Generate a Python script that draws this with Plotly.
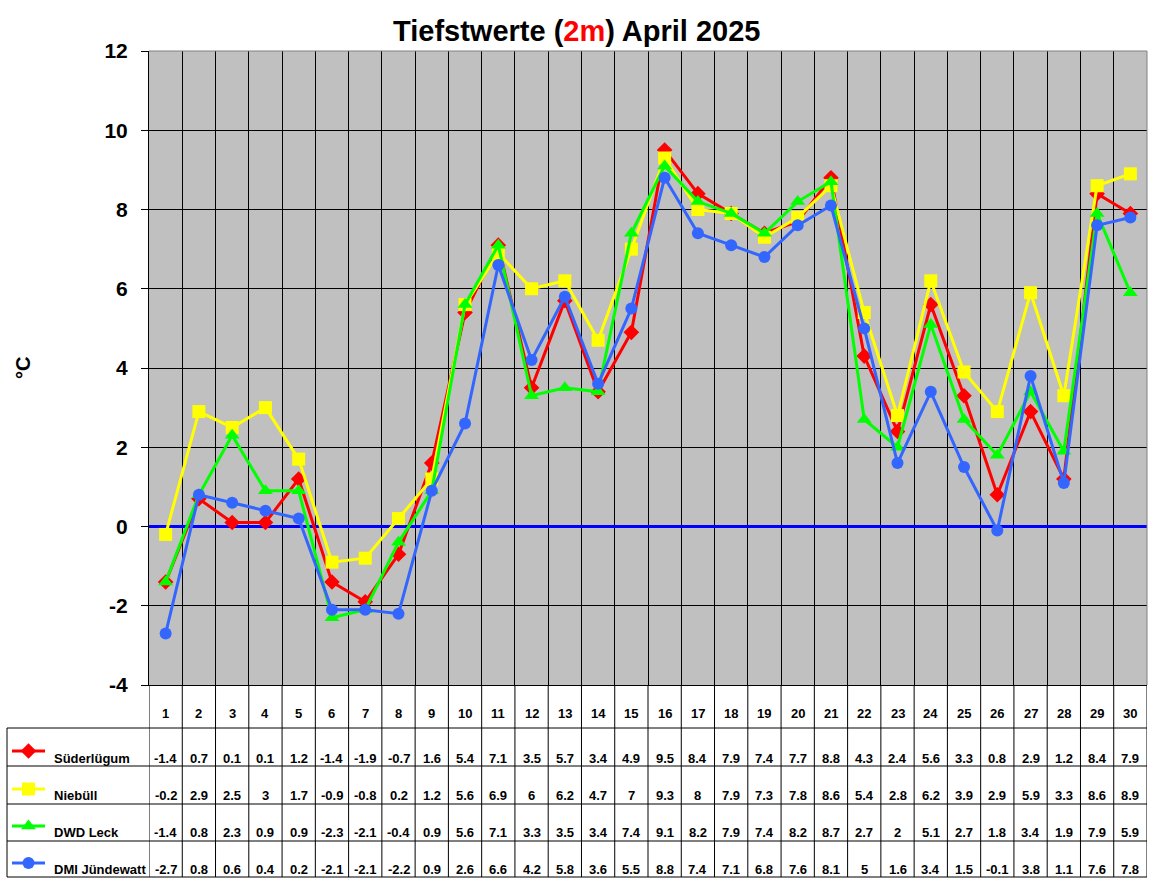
import plotly.graph_objects as go

W, H = 1152, 882

days = list(range(1, 31))
names = ["Süderlügum", "Niebüll", "DWD Leck", "DMI Jündewatt"]
suederluegum = [-1.4, 0.7, 0.1, 0.1, 1.2, -1.4, -1.9, -0.7, 1.6, 5.4, 7.1, 3.5, 5.7, 3.4, 4.9,
                9.5, 8.4, 7.9, 7.4, 7.7, 8.8, 4.3, 2.4, 5.6, 3.3, 0.8, 2.9, 1.2, 8.4, 7.9]
niebuell = [-0.2, 2.9, 2.5, 3, 1.7, -0.9, -0.8, 0.2, 1.2, 5.6, 6.9, 6, 6.2, 4.7, 7,
            9.3, 8, 7.9, 7.3, 7.8, 8.6, 5.4, 2.8, 6.2, 3.9, 2.9, 5.9, 3.3, 8.6, 8.9]
dwd_leck = [-1.4, 0.8, 2.3, 0.9, 0.9, -2.3, -2.1, -0.4, 0.9, 5.6, 7.1, 3.3, 3.5, 3.4, 7.4,
            9.1, 8.2, 7.9, 7.4, 8.2, 8.7, 2.7, 2, 5.1, 2.7, 1.8, 3.4, 1.9, 7.9, 5.9]
dmi_juendewatt = [-2.7, 0.8, 0.6, 0.4, 0.2, -2.1, -2.1, -2.2, 0.9, 2.6, 6.6, 4.2, 5.8, 3.6, 5.5,
                  8.8, 7.4, 7.1, 6.8, 7.6, 8.1, 5, 1.6, 3.4, 1.5, -0.1, 3.8, 1.1, 7.6, 7.8]
series = [suederluegum, niebuell, dwd_leck, dmi_juendewatt]
colors = ["#FF0000", "#FFFF00", "#00FF00", "#3366FF"]
symbols = ["diamond", "square", "triangle-up", "circle"]
msizes = [12, 13, 13, 12]
yticks = [-4, -2, 0, 2, 4, 6, 8, 10, 12]


def px(x):
    return x / W


def py(y):
    return 1 - y / H


L, R, T, B = 149, 1147, 51, 685
row_lines = [728, 766, 804, 841, 877]
row_text_y = [758, 795, 832, 869]
swatch_y = [751, 789, 826, 863]
header_y = 713
SW_X0, SW_X1, SW_Y0, SW_Y1 = 8, 148, 729, 876  # swatch sub-area (pixels)

BOLD = "Liberation Sans, Arial, sans-serif"
NARROW = "Liberation Sans Narrow, Arial Narrow, Liberation Sans, Arial, sans-serif"

fig = go.Figure()
for name, vals, c, s, ms in zip(names, series, colors, symbols, msizes):
    fig.add_trace(go.Scatter(x=days, y=vals, mode="lines+markers", name=name,
                             line=dict(color=c, width=3),
                             marker=dict(symbol=s, size=ms, color=c, line=dict(width=0)),
                             showlegend=False, xaxis="x", yaxis="y"))

# legend swatches in table (pixel-space small axes)
for c, s, ms, sy in zip(colors, symbols, msizes, swatch_y):
    fig.add_trace(go.Scatter(x=[12, 45], y=[sy, sy], mode="lines", line=dict(color=c, width=3),
                             showlegend=False, hoverinfo="skip", xaxis="x2", yaxis="y2"))
    fig.add_trace(go.Scatter(x=[28.5], y=[sy], mode="markers",
                             marker=dict(symbol=s, size=ms, color=c, line=dict(width=0)),
                             showlegend=False, hoverinfo="skip", xaxis="x2", yaxis="y2"))

shapes = []
shapes.append(dict(type="rect", xref="x domain", yref="y domain", x0=0, x1=1, y0=0, y1=1,
                   fillcolor="#C0C0C0", line=dict(width=0), layer="below"))
shapes.append(dict(type="line", xref="paper", yref="paper", x0=px(L), x1=px(R), y0=py(T), y1=py(T),
                   line=dict(color="#808080", width=1), layer="above"))
shapes.append(dict(type="line", xref="paper", yref="paper", x0=px(R), x1=px(R), y0=py(T), y1=py(B),
                   line=dict(color="#808080", width=1), layer="above"))
for d in range(0, 31):
    shapes.append(dict(type="line", xref="x", yref="paper", x0=d + 0.5, x1=d + 0.5,
                       y0=py(row_lines[-1]), y1=py(B), line=dict(color="black", width=1)))
for yl in row_lines:
    shapes.append(dict(type="line", xref="paper", yref="paper", x0=px(7), x1=px(R),
                       y0=py(yl), y1=py(yl), line=dict(color="black", width=1)))
shapes.append(dict(type="line", xref="paper", yref="paper", x0=px(7), x1=px(7),
                   y0=py(row_lines[0]), y1=py(row_lines[-1]), line=dict(color="black", width=1)))

ann = []
ann.append(dict(text="<b>Tiefstwerte (<span style='color:#FF0000'>2m</span>) April 2025</b>",
                x=px(577), y=py(31), xref="paper", yref="paper", showarrow=False,
                xanchor="center", yanchor="middle",
                font=dict(family=BOLD, size=29, color="black")))
ann.append(dict(text="<b>°C</b>", x=px(23), y=py(368), xref="paper", yref="paper", showarrow=False,
                xanchor="center", yanchor="middle",
                textangle=-90, font=dict(family=BOLD, size=20, color="black")))
for d in days:
    ann.append(dict(text=f"<b>{d}</b>", x=d, y=py(header_y), xref="x", yref="paper", showarrow=False,
                    xanchor="center", yanchor="middle",
                    font=dict(family=NARROW, size=13, color="black")))
for name, vals, ty in zip(names, series, row_text_y):
    ann.append(dict(text=f"<b>{name}</b>", x=px(52), y=py(ty), xref="paper", yref="paper",
                    xanchor="left", yanchor="middle", showarrow=False,
                    font=dict(family=BOLD, size=13, color="black")))
    for d, v in zip(days, vals):
        ann.append(dict(text=f"<b>{v:g}</b>", x=d, y=py(ty), xref="x", yref="paper", showarrow=False,
                        xanchor="center", yanchor="middle",
                        font=dict(family=NARROW, size=13, color="black")))

fig.update_layout(
    template="none",
    width=W, height=H, margin=dict(l=0, r=0, t=0, b=0, pad=0), autosize=False,
    paper_bgcolor="white", plot_bgcolor="rgba(0,0,0,0)",
    xaxis=dict(domain=[px(L), px(R)], range=[0.5, 30.5], tickvals=[d + 0.5 for d in range(0, 31)],
               showticklabels=False, ticks="", showgrid=True, gridcolor="black", gridwidth=1,
               showline=True, linecolor="black", linewidth=1, zeroline=False, fixedrange=True,
               automargin=False, anchor="y"),
    yaxis=dict(domain=[py(B), py(T)], range=[-4, 12], tickvals=yticks,
               ticktext=[f"<b>{t}</b>" for t in yticks],
               tickfont=dict(family=BOLD, size=21, color="black"),
               ticks="outside", ticklen=7, tickcolor="black", ticklabelstandoff=9,
               showgrid=True, gridcolor="black", gridwidth=1,
               showline=True, linecolor="black", linewidth=1, automargin=False, anchor="x",
               zeroline=True, zerolinecolor="#0000FF", zerolinewidth=3, fixedrange=True),
    xaxis2=dict(domain=[px(SW_X0), px(SW_X1)], range=[SW_X0, SW_X1], visible=False,
                fixedrange=True, anchor="y2", automargin=False),
    yaxis2=dict(domain=[py(SW_Y1), py(SW_Y0)], range=[SW_Y1, SW_Y0], visible=False,
                fixedrange=True, anchor="x2", automargin=False),
    shapes=shapes, annotations=ann, showlegend=False,
)

fig.write_html("out.html", config={"displayModeBar": False},
               post_script="document.body.style.margin='0';document.body.style.overflow='hidden';")
